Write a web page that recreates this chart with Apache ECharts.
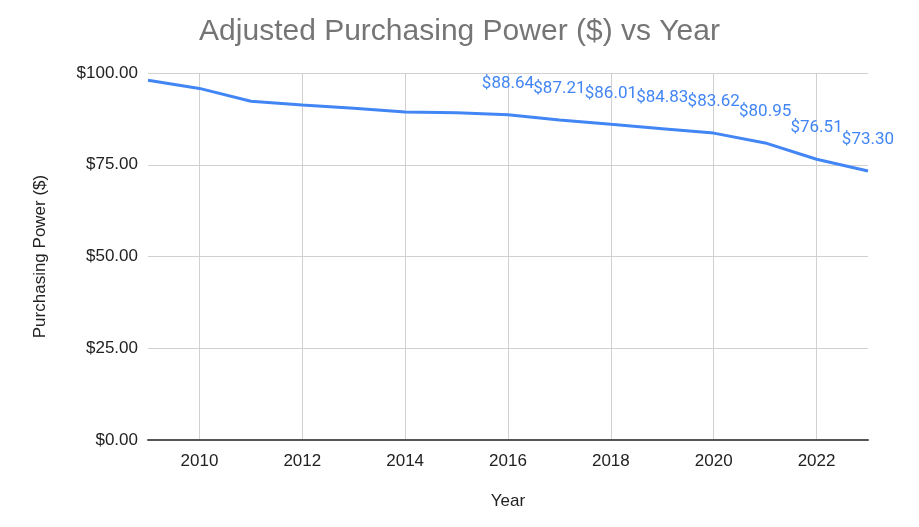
<!DOCTYPE html>
<html>
<head>
<meta charset="utf-8">
<script src="https://cdn.jsdelivr.net/npm/echarts@6/dist/echarts.min.js"></script>
<style>
  html, body { margin: 0; padding: 0; background: #fff; }
  #chart { width: 919px; height: 527px; }
</style>
</head>
<body>
<div id="chart"></div>
<script>
// values (2009-2015 estimated from the line)
const years = ['2009', '2010', '2011', '2012', '2013', '2014', '2015', '2016',
  '2017', '2018', '2019', '2020', '2021', '2022', '2023']
const power = [98.0, 95.8, 92.3, 91.3, 90.4, 89.4, 89.2, 88.64,
  87.21, 86.01, 84.83, 83.62, 80.95, 76.51, 73.30]
const firstLabelYear = '2016'
const yTicks = [0, 25, 50, 75, 100]

const blue = '#4285f4'
const font = '"Liberation Sans", Arial, sans-serif'
const labelFont = 'Roboto, Arial, sans-serif'

const evenYear = (idx, val) => Number(val) % 2 === 0

const seriesData = years.map((y, i) => ({
  value: power[i],
  label: { show: Number(y) >= Number(firstLabelYear) }
}))

const chart = echarts.init(document.getElementById('chart'))
chart.setOption({
  animation: false,
  title: {
    text: 'Adjusted Purchasing Power ($) vs Year',
    left: 'center',
    top: 12,
    textStyle: { color: '#757575', fontSize: 30, fontWeight: 'normal', fontFamily: font }
  },
  grid: { left: 148, right: 51, top: 73, bottom: 87 },
  xAxis: {
    type: 'category',
    data: years,
    boundaryGap: false,
    name: 'Year',
    nameLocation: 'middle',
    nameGap: 53,
    nameTextStyle: { color: '#222', fontSize: 17, fontFamily: font },
    axisLine: { lineStyle: { color: '#555', width: 2 } },
    axisTick: { show: false },
    axisLabel: { interval: evenYear, color: '#222', fontSize: 17, fontFamily: font, margin: 13 },
    splitLine: { show: true, interval: evenYear, lineStyle: { color: '#d0d0d0', width: 1 } }
  },
  yAxis: {
    type: 'value',
    min: yTicks[0],
    max: yTicks[yTicks.length - 1],
    interval: 25,
    name: 'Purchasing Power ($)',
    nameLocation: 'middle',
    nameGap: 99,
    nameTextStyle: { color: '#222', fontSize: 17, fontFamily: font },
    axisLine: { show: false },
    axisTick: { show: false },
    axisLabel: {
      color: '#222', fontSize: 17, fontFamily: font, margin: 10,
      formatter: v => '$' + v.toFixed(2)
    },
    splitLine: { lineStyle: { color: '#d0d0d0', width: 1 } }
  },
  series: [{
    type: 'line',
    data: seriesData,
    showSymbol: true,
    symbol: 'circle',
    symbolSize: 1,
    itemStyle: { color: 'rgba(0,0,0,0)', borderWidth: 0 },
    lineStyle: { color: blue, width: 3 },
    label: {
      position: 'top',
      distance: 22,
      color: blue,
      fontSize: 17,
      fontFamily: labelFont,
      formatter: p => '$' + p.value.toFixed(2)
    }
  }]
})
</script>
</body>
</html>
